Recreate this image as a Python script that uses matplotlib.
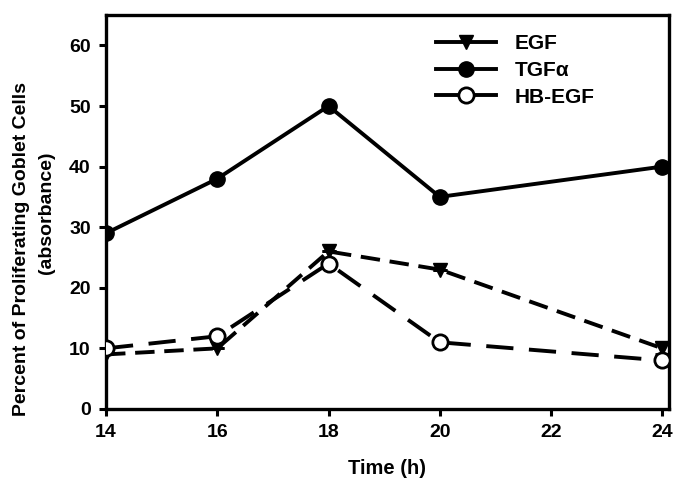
import matplotlib
matplotlib.use('Agg')
import matplotlib.pyplot as plt
from matplotlib.lines import Line2D

plt.rcParams['font.family'] = ['Liberation Sans', 'DejaVu Sans']
plt.rcParams['font.weight'] = 'bold'

time_h = [14, 16, 18, 20, 24]
egf    = [9, 10, 26, 23, 10]
tgfa   = [29, 38, 50, 35, 40]
hb_egf = [10, 12, 24, 11, 8]
egf_err = [0, 0, 0, 0, 1]

fig = plt.figure(figsize=(6.84, 4.88), dpi=100)
ax = fig.add_axes([0.155, 0.162, 0.823, 0.807])

lw = 2.8
ax.errorbar(time_h, egf, yerr=egf_err, color='black', lw=lw, ls=(0, (5, 2.5)),
            marker='v', ms=10, mfc='black', mec='black', capsize=5, elinewidth=2,
            capthick=2, zorder=3)
ax.plot(time_h, tgfa, color='black', lw=lw, ls='-', marker='o', ms=11,
        mfc='black', mec='black', zorder=3)
ax.plot(time_h, hb_egf, color='black', lw=lw, ls=(0, (7, 4)), marker='o', ms=11,
        mfc='white', mec='black', mew=2, zorder=4)

ax.set_xlim(14, 24.12)
ax.set_ylim(0, 65)
ax.set_xticks([14, 16, 18, 20, 22, 24])
ax.set_yticks([0, 10, 20, 30, 40, 50, 60])
ax.tick_params(direction='out', length=5, width=2.2, labelsize=14, pad=6)
for lab in ax.get_xticklabels() + ax.get_yticklabels():
    lab.set_fontweight('bold')
for sp in ax.spines.values():
    sp.set_linewidth(2.4)

ax.set_xlabel('Time (h)', fontsize=14.5, fontweight='bold', labelpad=13)
# two label lines placed separately, as in the original
fig.text(22 / 684, 1 - 249 / 488, 'Percent of Proliferating Goblet Cells',
         rotation=90, ha='center', va='center', fontsize=14, fontweight='bold')
fig.text(46 / 684, 1 - 213 / 488, '(absorbance)',
         rotation=90, ha='center', va='center', fontsize=14, fontweight='bold')

handles = [
    Line2D([], [], color='black', lw=lw, marker='v', ms=10, mfc='black'),
    Line2D([], [], color='black', lw=lw, marker='o', ms=11, mfc='black'),
    Line2D([], [], color='black', lw=lw, marker='o', ms=11, mfc='white', mew=2),
]
ax.legend(handles, ['EGF', 'TGF\u03b1', 'HB-EGF'], loc='upper left',
          bbox_to_anchor=(0.552, 1.0), frameon=False, handlelength=2.9,
          handletextpad=0.9, labelspacing=0.38, prop={'size': 15, 'weight': 'bold'})

fig.savefig('out.png', dpi=100)
